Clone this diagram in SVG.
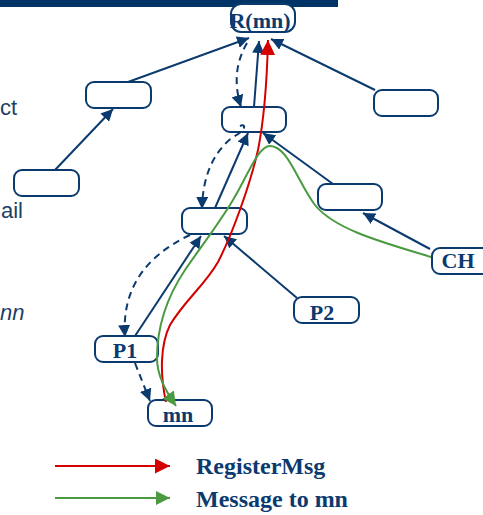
<svg xmlns="http://www.w3.org/2000/svg" width="483" height="515" viewBox="0 0 483 515">
<style>
.node rect{fill:#fff;stroke:#0b3a6e;stroke-width:2}
.node text{font-family:"Liberation Serif",serif;font-weight:bold;font-size:22px;fill:#0b3a6e;text-anchor:middle}
.e{fill:none;stroke:#0b3a6e;stroke-width:2}
.d{stroke-dasharray:7,5}
.side{font-family:"Liberation Sans",sans-serif;font-size:22px;fill:#1e3f66}
.leg{font-family:"Liberation Serif",serif;font-weight:bold;font-size:24px;fill:#0b3a6e}
</style>
<defs>
<marker id="nav" viewBox="0 0 10 10" refX="10" refY="5" markerWidth="12" markerHeight="12" markerUnits="userSpaceOnUse" orient="auto"><path d="M0,0 L10,5 L0,10 z" fill="#0b3a6e"/></marker>
<marker id="red" viewBox="0 0 10 10" refX="10" refY="5" markerWidth="15" markerHeight="15" markerUnits="userSpaceOnUse" orient="auto"><path d="M0,0 L10,5 L0,10 z" fill="#d40000"/></marker>
<marker id="grn" viewBox="0 0 10 10" refX="10" refY="5" markerWidth="14" markerHeight="14" markerUnits="userSpaceOnUse" orient="auto"><path d="M0,0 L10,5 L0,10 z" fill="#4a9a3f"/></marker>
</defs>
<rect x="0" y="0" width="338" height="7" fill="#003366"/>
<text class="side" x="0" y="115">ct</text>
<text class="side" x="1" y="218">ail</text>
<text class="side" x="0" y="320" font-style="italic">nn</text>

<g id="nodes">
<g id="R" class="node"><rect x="231" y="4" width="64" height="28" rx="10"/><text x="260" y="28">R(mn)</text></g>
<g id="A" class="node"><rect x="86" y="82" width="65" height="26" rx="8"/></g>
<g id="B" class="node"><rect x="374" y="90" width="64" height="26" rx="8"/></g>
<g id="C" class="node"><rect x="222" y="107" width="64" height="25" rx="8"/></g>
<g id="D" class="node"><rect x="14" y="170" width="65" height="26" rx="8"/></g>
<g id="E" class="node"><rect x="318" y="184" width="64" height="26" rx="8"/></g>
<g id="F" class="node"><rect x="182" y="208" width="65" height="26" rx="8"/></g>
<g id="CH" class="node"><rect x="432" y="248" width="60" height="26" rx="8"/><text x="458" y="268">CH</text></g>
<g id="P2" class="node"><rect x="294" y="297" width="65" height="26" rx="8"/><text x="322" y="320">P2</text></g>
<g id="P1" class="node"><rect x="95" y="336" width="63" height="26" rx="8"/><text x="125" y="358">P1</text></g>
<g id="mn" class="node"><rect x="148" y="400" width="64" height="26" rx="8"/><text x="178" y="422">mn</text></g>
</g>

<g id="connectors">
<path class="e" d="M55,170 L113,109" marker-end="url(#nav)"/>
<path class="e" d="M128,82 L249,38" marker-end="url(#nav)"/>
<path class="e" d="M375,90 L271,39" marker-end="url(#nav)"/>
<path class="e" d="M254,107 L259,41" marker-end="url(#nav)"/>
<path class="e d" d="M247,43 Q230,72 241,107" marker-end="url(#nav)"/>
<path class="e" d="M333,184 L263,133" marker-end="url(#nav)"/>
<path class="e" d="M215,208 L248,133" marker-end="url(#nav)"/>
<path class="e d" d="M240,126 C246,123 247,130 233,137 Q203,160 202,209" marker-end="url(#nav)"/>
<path class="e" d="M430,249 L363,213" marker-end="url(#nav)"/>
<path class="e" d="M297,298 L224,236" marker-end="url(#nav)"/>
<path class="e" d="M135,336 L201,236" marker-end="url(#nav)"/>
<path class="e d" d="M190,235 Q120,268 125,337" marker-end="url(#nav)"/>
<path class="e d" d="M135,363 L150,401" marker-end="url(#nav)"/>
<path fill="none" stroke="#d40000" stroke-width="2" d="M166,402 C160,375 160,345 170,325 C185,300 205,285 218,262 C232,235 250,185 258,150 C264,120 267,80 268,40" marker-end="url(#red)"/>
<path fill="none" stroke="#4a9a3f" stroke-width="2" d="M431,257 C385,243 335,230 315,205 C298,183 288,146 270,146 C258,146 248,175 233,200 C218,225 200,248 185,270 C165,300 157,330 157,358 C157,375 165,390 176,406" marker-end="url(#grn)"/>
</g>

<g id="legend">
<path fill="none" stroke="#d40000" stroke-width="2" d="M55,466 L170,466" marker-end="url(#red)"/>
<text class="leg" x="196" y="474">RegisterMsg</text>
<path fill="none" stroke="#4a9a3f" stroke-width="2" d="M55,498 L170,498" marker-end="url(#grn)"/>
<text class="leg" x="196" y="507">Message to mn</text>
</g>
</svg>
